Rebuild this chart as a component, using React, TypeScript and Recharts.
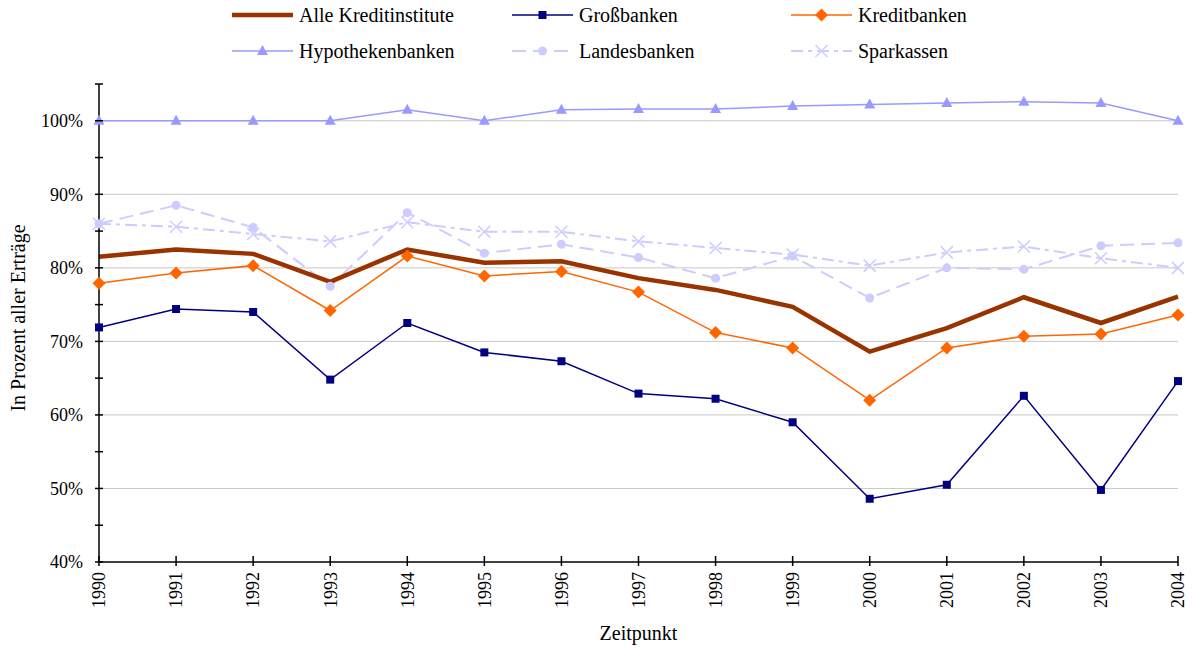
import React from 'react';
import {
  LineChart,
  Line,
  XAxis,
  YAxis,
  ReferenceLine,
} from 'recharts';

const years = [
  '1990', '1991', '1992', '1993', '1994', '1995', '1996', '1997',
  '1998', '1999', '2000', '2001', '2002', '2003', '2004',
];

const alleKreditinstitute = [81.5, 82.5, 81.9, 78.1, 82.5, 80.7, 80.9, 78.6, 77.0, 74.7, 68.6, 71.8, 76.0, 72.5, 76.1];
const grossbanken = [71.9, 74.4, 74.0, 64.8, 72.5, 68.5, 67.3, 62.9, 62.2, 59.0, 48.6, 50.5, 62.6, 49.8, 64.6];
const kreditbanken = [77.9, 79.3, 80.3, 74.2, 81.6, 78.9, 79.5, 76.7, 71.2, 69.1, 62.0, 69.1, 70.7, 71.0, 73.6];
const hypothekenbanken = [100, 100, 100, 100, 101.5, 100, 101.5, 101.6, 101.6, 102.0, 102.2, 102.4, 102.6, 102.4, 100];
const landesbanken = [86.0, 88.5, 85.5, 77.5, 87.5, 82.0, 83.2, 81.4, 78.6, 81.6, 75.9, 80.0, 79.8, 83.0, 83.4];
const sparkassen = [86.0, 85.6, 84.6, 83.6, 86.2, 84.9, 84.9, 83.6, 82.7, 81.8, 80.3, 82.1, 82.9, 81.3, 80.0];

const yTicks = [40, 45, 50, 55, 60, 65, 70, 75, 80, 85, 90, 95, 100, 105];
const gridValues = [50, 60, 70, 80, 90, 100];

const data = years.map((year, i) => ({
  year,
  alle: alleKreditinstitute[i],
  gross: grossbanken[i],
  kredit: kreditbanken[i],
  hypo: hypothekenbanken[i],
  landes: landesbanken[i],
  spark: sparkassen[i],
}));

const FONT = '"Liberation Serif", "Times New Roman", serif';

type MarkerKind = 'none' | 'square' | 'diamond' | 'triangle' | 'circle' | 'cross';

function Marker({ kind, cx, cy, color }: { kind: MarkerKind; cx: number; cy: number; color: string }) {
  if (kind === 'square') return <rect x={cx - 4} y={cy - 4} width={8} height={8} fill={color} />;
  if (kind === 'diamond')
    return <polygon points={`${cx},${cy - 6.5} ${cx + 6.5},${cy} ${cx},${cy + 6.5} ${cx - 6.5},${cy}`} fill={color} />;
  if (kind === 'triangle')
    return <polygon points={`${cx},${cy - 6} ${cx + 5.5},${cy + 4} ${cx - 5.5},${cy + 4}`} fill={color} />;
  if (kind === 'circle') return <circle cx={cx} cy={cy} r={4.5} fill={color} />;
  if (kind === 'cross')
    return (
      <g stroke={color} strokeWidth={1.5}>
        <line x1={cx - 6} y1={cy - 6} x2={cx + 6} y2={cy + 6} />
        <line x1={cx - 6} y1={cy + 6} x2={cx + 6} y2={cy - 6} />
      </g>
    );
  return null;
}

const series = [
  { key: 'alle', name: 'Alle Kreditinstitute', color: '#993300', width: 4.5, dash: undefined, marker: 'none' as MarkerKind },
  { key: 'gross', name: 'Großbanken', color: '#000080', width: 1.5, dash: undefined, marker: 'square' as MarkerKind },
  { key: 'kredit', name: 'Kreditbanken', color: '#FF6600', width: 1.5, dash: undefined, marker: 'diamond' as MarkerKind },
  { key: 'hypo', name: 'Hypothekenbanken', color: '#9999FF', width: 1.5, dash: undefined, marker: 'triangle' as MarkerKind },
  { key: 'landes', name: 'Landesbanken', color: '#CCCCFF', width: 2, dash: '14 7', marker: 'circle' as MarkerKind },
  { key: 'spark', name: 'Sparkassen', color: '#CCCCFF', width: 2, dash: '12 5 4 5', marker: 'cross' as MarkerKind },
];

const legendCols = [232, 512, 791];
const legendRows = [15, 51];

function LegendOverlay() {
  return (
    <div style={{ position: 'absolute', left: 0, top: 0, width: 1192, height: 70, fontFamily: FONT, fontSize: 20 }}>
      {series.map((s, i) => {
        const col = i % 3;
        const row = Math.floor(i / 3);
        return (
          <div
            key={s.key}
            style={{
              position: 'absolute',
              left: legendCols[col],
              top: legendRows[row] - 12,
              height: 24,
              display: 'flex',
              alignItems: 'center',
              whiteSpace: 'nowrap',
              color: '#000',
            }}
          >
            <svg width={61} height={24} style={{ marginRight: 6 }}>
              <line
                x1={0}
                y1={12}
                x2={61}
                y2={12}
                stroke={s.color}
                strokeWidth={s.width}
                strokeDasharray={s.dash}
                strokeLinecap={s.marker === 'none' ? 'round' : 'butt'}
              />
              <Marker kind={s.marker} cx={30.5} cy={12} color={s.color} />
            </svg>
            <span style={{ lineHeight: '24px' }}>{s.name}</span>
          </div>
        );
      })}
    </div>
  );
}

const YTick = (props: any) => {
  const { x, y, payload } = props;
  const major = payload.value % 10 === 0;
  return (
    <g>
      <line x1={x + 12} y1={y} x2={x + 20} y2={y} stroke="#000" strokeWidth={1.5} />
      {major && (
        <text x={x} y={y} dy="0.35em" textAnchor="end" fontFamily={FONT} fontSize={18} fill="#000">
          {payload.value}%
        </text>
      )}
    </g>
  );
};

const XTick = (props: any) => {
  const { x, y, payload } = props;
  return (
    <g>
      <line x1={x} y1={y - 16} x2={x} y2={y - 6} stroke="#000" strokeWidth={1.5} />
      <text
        x={x}
        y={y}
        dy="0.35em"
        textAnchor="end"
        transform={`rotate(-90, ${x}, ${y})`}
        fontFamily={FONT}
        fontSize={18}
        fill="#000"
      >
        {payload.value}
      </text>
    </g>
  );
};

export default function App() {
  return (
    <div style={{ position: 'absolute', left: 0, top: 0, width: 1192, height: 651, background: '#fff' }}>
      <LineChart width={1192} height={651} data={data} margin={{ top: 84, right: 14, bottom: 0, left: 0 }}>
        {gridValues.map((v) => (
          <ReferenceLine key={v} y={v} stroke="#c8c8c8" strokeWidth={1} ifOverflow="extendDomain" />
        ))}
        <XAxis
          dataKey="year"
          height={89}
          tickSize={4}
          tickMargin={6}
          tickLine={false}
          tick={<XTick />}
          interval={0}
          axisLine={{ stroke: '#000', strokeWidth: 1.5 }}
          label={{
            content: (p: any) => {
              const vb = p.viewBox;
              return (
                <text x={vb.x + vb.width / 2} y={vb.y + 71} dy="0.35em" textAnchor="middle" fontFamily={FONT} fontSize={20} fill="#000">
                  Zeitpunkt
                </text>
              );
            },
          }}
        />
        <YAxis
          type="number"
          domain={[40, 105]}
          ticks={yTicks}
          interval={0}
          width={99}
          tickSize={4}
          tickMargin={12}
          tickLine={false}
          tick={<YTick />}
          axisLine={{ stroke: '#000', strokeWidth: 1.5 }}
          label={{
            content: (p: any) => {
              const vb = p.viewBox;
              const cx = vb.x + 18;
              const cy = vb.y + vb.height / 2 - 5;
              return (
                <text
                  x={cx}
                  y={cy}
                  dy="0.35em"
                  textAnchor="middle"
                  transform={`rotate(-90, ${cx}, ${cy})`}
                  fontFamily={FONT}
                  fontSize={20}
                  fill="#000"
                >
                  In Prozent aller Erträge
                </text>
              );
            },
          }}
        />
        {series
          .slice()
          .reverse()
          .map((s) => (
            <Line
              key={s.key}
              dataKey={s.key}
              name={s.name}
              type="linear"
              stroke={s.color}
              strokeWidth={s.width}
              strokeDasharray={s.dash}
              isAnimationActive={false}
              activeDot={false}
              dot={
                s.marker === 'none'
                  ? false
                  : (p: any) => (
                      <g key={`${s.key}-${p.index}`}>
                        <Marker kind={s.marker} cx={p.cx} cy={p.cy} color={s.color} />
                      </g>
                    )
              }
            />
          ))}
      </LineChart>
      <LegendOverlay />
    </div>
  );
}
